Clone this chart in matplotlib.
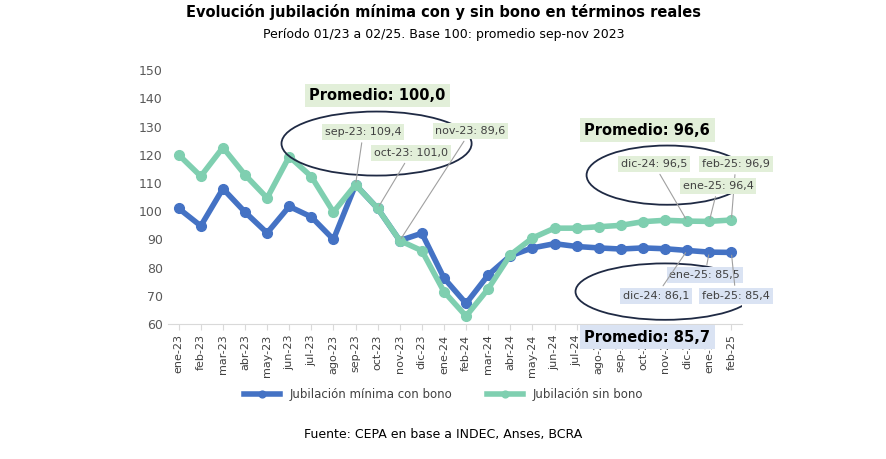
import matplotlib.pyplot as plt
from matplotlib.patches import Ellipse

months = ["ene-23", "feb-23", "mar-23", "abr-23", "may-23", "jun-23", "jul-23", "ago-23",
          "sep-23", "oct-23", "nov-23", "dic-23", "ene-24", "feb-24", "mar-24", "abr-24",
          "may-24", "jun-24", "jul-24", "ago-24", "sep-24", "oct-24", "nov-24", "dic-24",
          "ene-25", "feb-25"]
con_bono = [101.0, 94.8, 108.0, 99.7, 92.3, 101.7, 98.0, 90.0, 109.4, 101.0, 89.6, 92.2, 76.3,
            67.3, 77.4, 84.2, 87.0, 88.5, 87.5, 87.0, 86.6, 87.0, 86.7, 86.1, 85.5, 85.4]
sin_bono = [120.0, 112.4, 122.6, 112.9, 104.7, 119.4, 112.3, 99.7, 109.4, 101.0, 89.6, 86.0, 71.5,
            62.8, 72.5, 84.5, 90.5, 94.0, 94.0, 94.5, 95.0, 96.3, 96.8, 96.5, 96.4, 96.9]

BLUE = "#4472c4"
GREEN = "#7fcfb0"
GREEN_BOX = "#e2efd9"
BLUE_BOX = "#dae3f3"

fig = plt.figure(figsize=(8.87, 4.59), dpi=100)
ax = fig.add_axes([0.189, 0.294, 0.648, 0.553])
x = list(range(len(months)))
ax.plot(x, con_bono, color=BLUE, lw=4, marker="o", ms=7, label="Jubilación mínima con bono", zorder=3)
ax.plot(x, sin_bono, color=GREEN, lw=4, marker="o", ms=7, label="Jubilación sin bono", zorder=4)

ax.set_xlim(-0.5, 25.5)
ax.set_ylim(60, 150)
ax.set_yticks(range(60, 151, 10))
ax.set_xticks(x)
ax.set_xticklabels(months, rotation=90, fontsize=8, color="#404040")
ax.tick_params(axis="y", length=0, labelsize=9, labelcolor="#595959")
ax.tick_params(axis="x", length=4, color="#d9d9d9")
for s in ["top", "right", "left"]:
    ax.spines[s].set_visible(False)
ax.spines["bottom"].set_color("#d9d9d9")


def label(text, xy, xytext, face, size=8, bold=False):
    if xy is None:
        ax.text(*xytext, text, fontsize=size, fontweight="bold", color="black",
                ha="center", va="center", zorder=6,
                bbox=dict(boxstyle="square,pad=0.3", fc=face, ec="none"), clip_on=False)
        return
    ax.annotate(text, xy=xy, xytext=xytext, fontsize=size, color="#404040",
                ha="center", va="center", zorder=6, annotation_clip=False,
                bbox=dict(boxstyle="square,pad=0.25", fc=face, ec="none"),
                arrowprops=dict(arrowstyle="-", color="#a0a0a0", lw=0.8))


# left group
ax.add_patch(Ellipse((8.95, 124.0), 8.6, 22.7, fill=False, ec="#1f2a44", lw=1.3, zorder=5))
label("Promedio: 100,0", None, (9.0, 141.0), GREEN_BOX, size=10.5, bold=True)
label("sep-23: 109,4", (8, 109.4), (8.35, 128.0), GREEN_BOX)
label("oct-23: 101,0", (9, 101), (10.5, 120.6), GREEN_BOX)
label("nov-23: 89,6", (10, 89.6), (13.2, 128.4), GREEN_BOX)

# upper right group
ax.add_patch(Ellipse((22.1, 112.8), 7.3, 21, fill=False, ec="#1f2a44", lw=1.3, zorder=5))
label("Promedio: 96,6", None, (21.2, 128.7), GREEN_BOX, size=10.5, bold=True)
label("dic-24: 96,5", (23, 96.5), (21.5, 116.7), GREEN_BOX)
label("feb-25: 96,9", (25, 96.9), (25.2, 116.7), GREEN_BOX)
label("ene-25: 96,4", (24, 96.4), (24.4, 108.9), GREEN_BOX)

# lower right group
ax.add_patch(Ellipse((22.0, 71.5), 8.1, 20, fill=False, ec="#1f2a44", lw=1.3, zorder=5))
label("Promedio: 85,7", None, (21.2, 55.4), BLUE_BOX, size=10.5, bold=True)
label("ene-25: 85,5", (24, 85.5), (23.8, 77.3), BLUE_BOX)
label("dic-24: 86,1", (23, 86.1), (21.6, 70.0), BLUE_BOX)
label("feb-25: 85,4", (25, 85.4), (25.2, 70.0), BLUE_BOX)

fig.text(0.5, 0.962, "Evolución jubilación mínima con y sin bono en términos reales",
         ha="center", fontsize=10.5, fontweight="bold")
fig.text(0.5, 0.918, "Período 01/23 a 02/25. Base 100: promedio sep-nov 2023",
         ha="center", fontsize=9)
fig.legend(loc="center", bbox_to_anchor=(0.5, 0.14), ncol=2, frameon=False, fontsize=8.5,
           handlelength=3, columnspacing=3, labelcolor="#404040", markerscale=0.7)
fig.text(0.5, 0.045, "Fuente: CEPA en base a INDEC, Anses, BCRA", ha="center", fontsize=9)

fig.savefig("out.png", dpi=100)
